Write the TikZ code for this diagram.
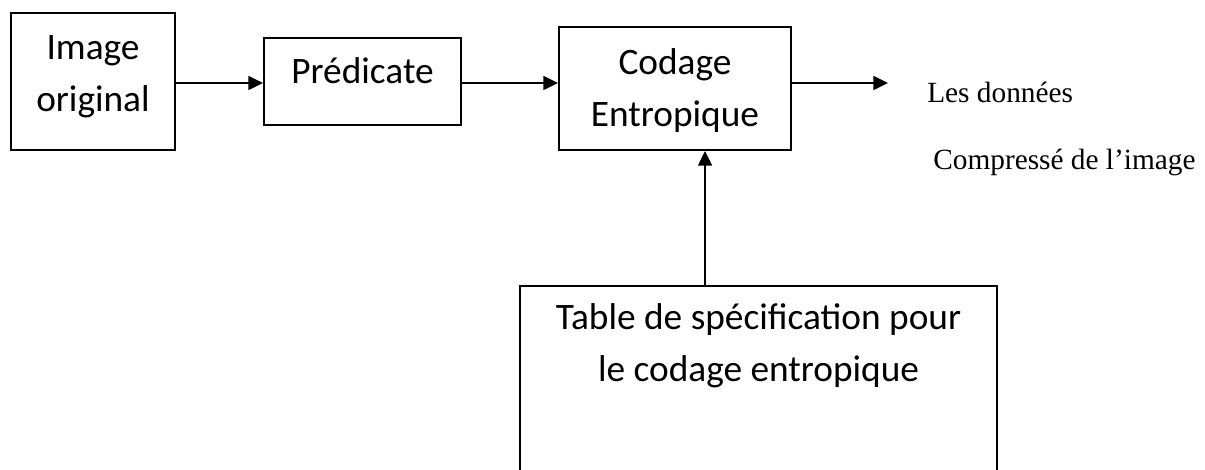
\documentclass[tikz,border=0pt]{standalone}
\usepackage{fontspec}
\setmainfont{Carlito}
\newfontfamily\timesfont{Liberation Serif}
\usetikzlibrary{arrows.meta}
\def\px{0.75pt}
\tikzset{
  box/.style={
    draw,
    line width=1.5pt,
    align=center,
    inner sep=0pt,
    font=\fontsize{28}{39}\selectfont,
  },
  flow/.style={
    line width=1.1pt,
    -{Triangle[length=11pt,width=10.5pt]},
  },
  outtext/.style={
    inner sep=0pt,
    anchor=base west,
    font=\timesfont\fontsize{22}{26}\selectfont,
  },
}

\begin{document}
\begin{tikzpicture}[x=\px, y=-\px]
            \clip (0,0) rectangle (1205,470);
            \useasboundingbox (0,0) rectangle (1205,470);

            % Blocks
            \node[box, minimum width=164*\px, minimum height=137*\px, text height=68*\px, text depth=7*\px] (orig) at (93,81.5) {Image\\original};
            \node[box, minimum width=197*\px, minimum height=87*\px, text height=0.7em, text depth=0.45em] (pred) at (362.5,81.5) {Prédicate};
            \node[box, minimum width=232*\px, minimum height=123*\px, text height=84*\px, text depth=7*\px] (codage) at (675,88.5) {Codage\\Entropique};
            \node[box, minimum width=477*\px, anchor=north, text height=95*\px, text depth=300*\px] (table) at (758.5,285) {Table de spécification pour\\le codage entropique};

            % Output
            \coordinate (outend) at (888,83);
            \coordinate (feed) at (705,0);
            \node[outtext] (out1) at (927,103) {Les données};
            \node[outtext] (out2) at (933,170) {Compressé de l’image};

            % Arrows
            \draw[flow] (orig.east |- outend) -- (pred.west |- outend);
            \draw[flow] (pred.east |- outend) -- (codage.west |- outend);
            \draw[flow] (codage.east |- outend) -- (outend);
            \draw[flow] (table.north -| feed) -- (codage.south -| feed);
          \end{tikzpicture}
\end{document}
